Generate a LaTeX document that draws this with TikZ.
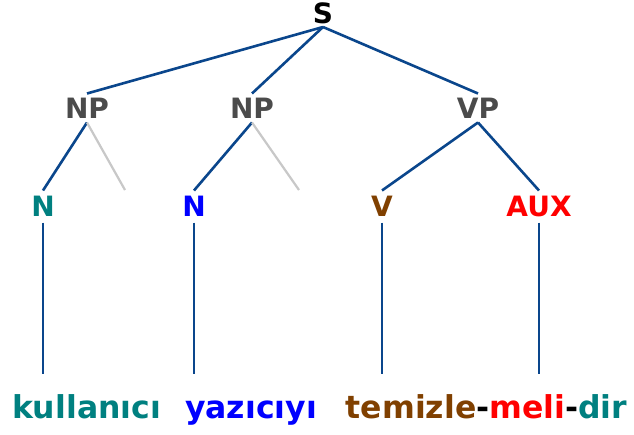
\documentclass[tikz,border=0pt]{standalone}
\usepackage{fontspec}
\setmainfont{DejaVu Sans}
\definecolor{treeline}{RGB}{10,70,140}
\definecolor{ghost}{RGB}{200,200,200}
\definecolor{tealc}{RGB}{0,128,128}
\definecolor{bluec}{RGB}{0,0,255}
\definecolor{brownc}{RGB}{128,64,0}
\definecolor{redc}{RGB}{255,0,0}
\definecolor{phrase}{RGB}{75,75,75}
\begin{document}
\begin{tikzpicture}[x=1pt,y=-1pt,
  lbl/.style={inner sep=0pt, outer sep=0pt, text height=20pt, text depth=0pt,
    font=\fontsize{28}{32}\selectfont\bfseries},
  phr/.style={lbl, text=phrase, minimum height=29pt},
  cat/.style={lbl, minimum height=32pt},
  word/.style={anchor=base, inner sep=0pt, font=\fontsize{31.5}{36}\selectfont\bfseries},
  edge/.style={draw=treeline, line width=2.6pt},
  ghostedge/.style={draw=ghost, line width=2.2pt}]
\useasboundingbox (0,0) rectangle (634,434);
\fill[white] (0,0) rectangle (634,434);
% top
\node[lbl, text height=20pt, minimum height=27pt, font=\fontsize{28}{32}\selectfont\bfseries] (s) at (323,13.5) {S};
% phrases
\node[phr] (np1) at (87,108) {NP};
\node[phr] (np2) at (252,108) {NP};
\node[phr] (vp) at (478,108) {VP};
% categories
\node[cat, text=tealc] (n1) at (43,206.5) {N};
\node[cat, text=bluec] (n2) at (194,206.5) {N};
\node[cat, text=brownc] (v) at (382,206.5) {V};
\node[cat, text=redc] (aux) at (539,206.5) {AUX};
% free ends
\coordinate (g1) at (125,190);
\coordinate (g2) at (299,190);
\coordinate (e1) at (43,374);
\coordinate (e2) at (194,374);
\coordinate (e3) at (382,374);
\coordinate (e4) at (539,374);
% words
\node[word, text=tealc] (w1) at (86.5,418) {kullanıcı};
\node[word, text=bluec] (w2) at (251,418) {yazıcıyı};
\node[word] (w3) at (486.5,418) {\textcolor{brownc}{temizle}-\textcolor{redc}{meli}-\textcolor{tealc}{dir}};
% edges
\draw[edge] (s.south) -- (np1.north);
\draw[edge] (s.south) -- (np2.north);
\draw[edge] (s.south) -- (vp.north);
\draw[edge] (np1.south) -- (n1.north);
\draw[ghostedge] (np1.south) -- (g1);
\draw[edge] (np2.south) -- (n2.north);
\draw[ghostedge] (np2.south) -- (g2);
\draw[edge] (vp.south) -- (v.north);
\draw[edge] (vp.south) -- (aux.north);
\draw[edge] (n1.south) -- (e1);
\draw[edge] (n2.south) -- (e2);
\draw[edge] (v.south) -- (e3);
\draw[edge] (aux.south) -- (e4);
\end{tikzpicture}
\end{document}
